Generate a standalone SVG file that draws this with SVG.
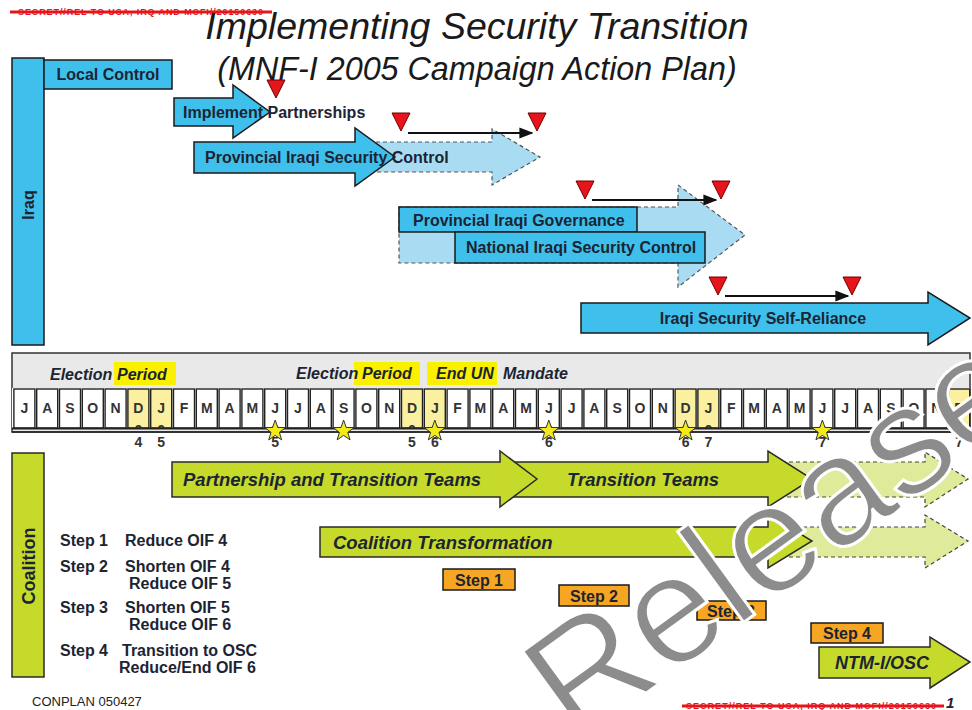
<svg xmlns="http://www.w3.org/2000/svg" xmlns:xlink="http://www.w3.org/1999/xlink" width="972" height="710" viewBox="0 0 972 710">
<style>
.t{font-family:"Liberation Sans",Arial,sans-serif;font-weight:bold;fill:#1c2433}
.bl{fill:#3fc0ec;stroke:#1a1a1a;stroke-width:1.5}
.bld{fill:#a9dcf3;stroke:#555;stroke-width:1.2;stroke-dasharray:4 3}
.gr{fill:#c6da2c;stroke:#2a2a2a;stroke-width:1.5}
.grd{fill:#dfeb9a;stroke:#444;stroke-width:1.2;stroke-dasharray:4 3}
.st{fill:#f6a623;stroke:#1a1a1a;stroke-width:1.5}
.tri{fill:#e8141b;stroke:#6b0000;stroke-width:1}
.cell{fill:#fff;stroke:#222;stroke-width:1.4}
.hcell{fill:#faf0a0;stroke:#222;stroke-width:1.4}
.m{font-family:"Liberation Sans",Arial,sans-serif;font-weight:bold;font-size:14px;fill:#333;text-anchor:middle}
.hl{fill:#fbf000}
.hd{font-family:"Liberation Sans",Arial,sans-serif;font-weight:bold;font-style:italic;font-size:16px;fill:#1c2433}
.red{font-family:"Liberation Sans",Arial,sans-serif;font-weight:bold;font-size:9px;fill:#e8141b}
</style>
<defs>
<marker id="ah" viewBox="0 0 10 10" refX="9" refY="5" markerWidth="7" markerHeight="7" orient="auto"><path d="M0,1 L10,5 L0,9 z" fill="#111"/></marker>
<polygon id="star" points="0,-11 2.59,-3.56 10.46,-3.4 4.18,1.36 6.47,8.9 0,4.4 -6.47,8.9 -4.18,1.36 -10.46,-3.4 -2.59,-3.56" fill="#f3ea1c" stroke="#333" stroke-width="1"/>
<polygon id="rt" points="-9,0 9,0 0,18" class="tri"/>
<clipPath id="cc"><rect x="12" y="388" width="958" height="40"/></clipPath>
</defs>
<rect width="972" height="710" fill="#fff"/>

<g id="marking-top">
<text class="red" x="18" y="15" textLength="245">SECRET//REL TO USA, IRQ AND MCFI//20150630</text>
<line x1="10" y1="12" x2="272" y2="12" stroke="#e8141b" stroke-width="3"/>
</g>

<g id="title">
<text x="477" y="39" text-anchor="middle" font-family="Liberation Sans, Arial, sans-serif" font-style="italic" font-size="37.5" fill="#1a1a1a">Implementing Security Transition</text>
<text x="477" y="80" text-anchor="middle" font-family="Liberation Sans, Arial, sans-serif" font-style="italic" font-size="32.3" fill="#1a1a1a">(MNF-I 2005 Campaign Action Plan)</text>
</g>

<g id="iraq-bar">
<rect class="bl" x="12" y="58" width="32" height="287"/>
<text class="t" font-size="16" transform="translate(34,205) rotate(-90)" text-anchor="middle">Iraq</text>
</g>

<g id="local-control">
<rect class="bl" x="44" y="60" width="128" height="29"/>
<text class="t" font-size="16" x="108" y="80" text-anchor="middle">Local Control</text>
</g>

<g id="implement-partnerships">
<polygon class="bl" points="174,98 233,98 233,85 270,112 233,138 233,126 174,126"/>
<text class="t" font-size="16" x="183" y="118">Implement Partnerships</text>
</g>

<g id="provincial-security-control">
<polygon class="bld" points="355,142 492,142 492,129 540,157 492,185 492,172 355,172"/>
<polygon class="bl" points="194,142 355,142 355,128 395,157 355,186 355,173 194,173"/>
<text class="t" font-size="16" x="205" y="163">Provincial Iraqi Security Control</text>
</g>

<g id="governance-national">
<polygon class="bld" points="399,207 678,207 678,185 745,235 678,287 678,263 399,263"/>
<rect class="bl" x="399" y="207" width="238" height="25"/>
<text class="t" font-size="16" x="413" y="226">Provincial Iraqi Governance</text>
<rect class="bl" x="455" y="232" width="250" height="31"/>
<text class="t" font-size="16" x="466" y="253">National Iraqi Security Control</text>
</g>

<g id="self-reliance">
<polygon class="bl" points="581,303 928,303 928,292 970,318 928,345 928,333 581,333"/>
<text class="t" font-size="16" x="763" y="324" text-anchor="middle">Iraqi Security Self-Reliance</text>
</g>

<g id="milestones">
<use href="#rt" x="276" y="80"/>
<use href="#rt" x="401" y="113"/>
<use href="#rt" x="537" y="113"/>
<use href="#rt" x="585" y="181"/>
<use href="#rt" x="721" y="181"/>
<use href="#rt" x="718" y="277"/>
<use href="#rt" x="852" y="277"/>
</g>

<g id="connectors" stroke="#111" stroke-width="2" fill="none">
<line x1="408" y1="133" x2="532" y2="133" marker-end="url(#ah)"/>
<line x1="592" y1="200" x2="716" y2="200" marker-end="url(#ah)"/>
<line x1="725" y1="296" x2="848" y2="296" marker-end="url(#ah)"/>
</g>

<g id="timeline">
<rect x="12" y="353" width="958" height="79" fill="#e9e9e9" stroke="#333" stroke-width="1.5"/>
<rect class="hl" x="114" y="362" width="62" height="23"/>
<rect class="hl" x="354" y="362" width="66" height="23"/>
<rect class="hl" x="427" y="362" width="70" height="23"/>
<text class="hd" x="50" y="380">Election</text>
<text class="hd" x="117" y="380">Period</text>
<text class="hd" x="296" y="379">Election</text>
<text class="hd" x="362" y="379">Period</text>
<text class="hd" x="436" y="379">End UN</text>
<text class="hd" x="503" y="379">Mandate</text>
<rect x="12" y="388" width="958" height="41" fill="#fff"/>
<g id="cells">
<rect class="cell" x="13.9" y="389" width="21" height="39"/>
<rect class="cell" x="36.7" y="389" width="21" height="39"/>
<rect class="cell" x="59.5" y="389" width="21" height="39"/>
<rect class="cell" x="82.3" y="389" width="21" height="39"/>
<rect class="cell" x="105.1" y="389" width="21" height="39"/>
<rect class="hcell" x="127.9" y="389" width="21" height="39"/>
<rect class="hcell" x="150.7" y="389" width="21" height="39"/>
<rect class="cell" x="173.5" y="389" width="21" height="39"/>
<rect class="cell" x="196.3" y="389" width="21" height="39"/>
<rect class="cell" x="219.1" y="389" width="21" height="39"/>
<rect class="cell" x="241.9" y="389" width="21" height="39"/>
<rect class="cell" x="264.7" y="389" width="21" height="39"/>
<rect class="cell" x="287.5" y="389" width="21" height="39"/>
<rect class="cell" x="310.3" y="389" width="21" height="39"/>
<rect class="cell" x="333.1" y="389" width="21" height="39"/>
<rect class="cell" x="355.9" y="389" width="21" height="39"/>
<rect class="cell" x="378.7" y="389" width="21" height="39"/>
<rect class="hcell" x="401.5" y="389" width="21" height="39"/>
<rect class="hcell" x="424.3" y="389" width="21" height="39"/>
<rect class="cell" x="447.1" y="389" width="21" height="39"/>
<rect class="cell" x="469.9" y="389" width="21" height="39"/>
<rect class="cell" x="492.7" y="389" width="21" height="39"/>
<rect class="cell" x="515.5" y="389" width="21" height="39"/>
<rect class="cell" x="538.3" y="389" width="21" height="39"/>
<rect class="cell" x="561.1" y="389" width="21" height="39"/>
<rect class="cell" x="583.9" y="389" width="21" height="39"/>
<rect class="cell" x="606.7" y="389" width="21" height="39"/>
<rect class="cell" x="629.5" y="389" width="21" height="39"/>
<rect class="cell" x="652.3" y="389" width="21" height="39"/>
<rect class="hcell" x="675.1" y="389" width="21" height="39"/>
<rect class="hcell" x="697.9" y="389" width="21" height="39"/>
<rect class="cell" x="720.7" y="389" width="21" height="39"/>
<rect class="cell" x="743.5" y="389" width="21" height="39"/>
<rect class="cell" x="766.3" y="389" width="21" height="39"/>
<rect class="cell" x="789.1" y="389" width="21" height="39"/>
<rect class="cell" x="811.9" y="389" width="21" height="39"/>
<rect class="cell" x="834.7" y="389" width="21" height="39"/>
<rect class="cell" x="857.5" y="389" width="21" height="39"/>
<rect class="cell" x="880.3" y="389" width="21" height="39"/>
<rect class="cell" x="903.1" y="389" width="21" height="39"/>
<rect class="cell" x="925.9" y="389" width="21" height="39"/>
<rect class="hcell" x="948.7" y="389" width="21" height="39"/>
</g>
<g id="months">
<text class="m" x="24.4" y="413">J</text><text class="m" x="47.2" y="413">A</text><text class="m" x="70" y="413">S</text><text class="m" x="92.8" y="413">O</text><text class="m" x="115.6" y="413">N</text><text class="m" x="138.4" y="413">D</text>
<text class="m" x="161.2" y="413">J</text><text class="m" x="184" y="413">F</text><text class="m" x="206.8" y="413">M</text><text class="m" x="229.6" y="413">A</text><text class="m" x="252.4" y="413">M</text><text class="m" x="275.2" y="413">J</text><text class="m" x="298" y="413">J</text><text class="m" x="320.8" y="413">A</text><text class="m" x="343.6" y="413">S</text><text class="m" x="366.4" y="413">O</text><text class="m" x="389.2" y="413">N</text><text class="m" x="412" y="413">D</text>
<text class="m" x="434.8" y="413">J</text><text class="m" x="457.6" y="413">F</text><text class="m" x="480.4" y="413">M</text><text class="m" x="503.2" y="413">A</text><text class="m" x="526" y="413">M</text><text class="m" x="548.8" y="413">J</text><text class="m" x="571.6" y="413">J</text><text class="m" x="594.4" y="413">A</text><text class="m" x="617.2" y="413">S</text><text class="m" x="640" y="413">O</text><text class="m" x="662.8" y="413">N</text><text class="m" x="685.6" y="413">D</text>
<text class="m" x="708.4" y="413">J</text><text class="m" x="731.2" y="413">F</text><text class="m" x="754" y="413">M</text><text class="m" x="776.8" y="413">A</text><text class="m" x="799.6" y="413">M</text><text class="m" x="822.4" y="413">J</text><text class="m" x="845.2" y="413">J</text><text class="m" x="868" y="413">A</text><text class="m" x="890.8" y="413">S</text><text class="m" x="913.6" y="413">O</text><text class="m" x="936.4" y="413">N</text><text class="m" x="959.2" y="413">D</text>
</g>
<g id="zeros" clip-path="url(#cc)">
<text class="m" x="138.4" y="435">0</text><text class="m" x="161.2" y="435">0</text><text class="m" x="275.2" y="435">0</text><text class="m" x="412" y="435">0</text><text class="m" x="434.8" y="435">0</text><text class="m" x="548.8" y="435">0</text><text class="m" x="685.6" y="435">0</text><text class="m" x="708.4" y="435">0</text><text class="m" x="822.4" y="435">0</text><text class="m" x="959.2" y="435">0</text>
</g>
<line x1="12" y1="428.5" x2="970" y2="428.5" stroke="#222" stroke-width="2"/>
<line x1="12" y1="432" x2="970" y2="432" stroke="#222" stroke-width="1.5"/>
<g id="years">
<text class="m" x="138.4" y="447">4</text><text class="m" x="161.2" y="447">5</text><text class="m" x="275.2" y="447">5</text><text class="m" x="412" y="447">5</text><text class="m" x="434.8" y="447">6</text><text class="m" x="548.8" y="447">6</text><text class="m" x="685.6" y="447">6</text><text class="m" x="708.4" y="447">7</text><text class="m" x="822.4" y="447">7</text><text class="m" x="959.2" y="447">7</text>
</g>
<g id="stars">
<use href="#star" x="275.2" y="431"/>
<use href="#star" x="343.6" y="431"/>
<use href="#star" x="434.8" y="431"/>
<use href="#star" x="548.8" y="431"/>
<use href="#star" x="685.6" y="431"/>
<use href="#star" x="822.4" y="431"/>
</g>
</g>

<g id="coalition-bar">
<rect class="gr" x="12" y="453" width="32" height="224"/>
<text class="t" font-size="18" transform="translate(35,566) rotate(-90)" text-anchor="middle">Coalition</text>
</g>

<g id="transition-teams">
<polygon class="grd" points="768,462 925,462 925,452 968,479 925,507 925,497 768,497"/>
<polygon class="gr" points="505,462 768,462 768,451 812,479 768,507 768,497 505,497"/>
<text class="t" font-size="18.5" font-style="italic" x="567" y="486">Transition Teams</text>
</g>

<g id="partnership-transition-teams">
<polygon class="gr" points="172,462 500,462 500,451 537,479 500,507 500,497 172,497"/>
<text class="t" font-size="18.5" font-style="italic" x="183" y="486">Partnership and Transition Teams</text>
</g>

<g id="coalition-transformation">
<polygon class="grd" points="768,527 925,527 925,515 968,541 925,568 925,557 768,557"/>
<polygon class="gr" points="320,527 768,527 768,514 812,541 768,568 768,557 320,557"/>
<text class="t" font-size="18.5" font-style="italic" x="333" y="549">Coalition Transformation</text>
</g>

<g id="steps-legend" class="t" font-size="16">
<text x="60" y="546">Step 1</text><text x="125" y="546">Reduce OIF 4</text>
<text x="60" y="572">Step 2</text><text x="125" y="572">Shorten OIF 4</text>
<text x="129" y="589">Reduce OIF 5</text>
<text x="60" y="613">Step 3</text><text x="125" y="613">Shorten OIF 5</text>
<text x="129" y="630">Reduce OIF 6</text>
<text x="60" y="656">Step 4</text><text x="122" y="656">Transition to OSC</text>
<text x="119" y="673">Reduce/End OIF 6</text>
</g>

<g id="step1"><rect class="st" x="443" y="569" width="72" height="21"/><text class="t" font-size="16" x="479" y="586" text-anchor="middle">Step 1</text></g>
<g id="step2"><rect class="st" x="559" y="585" width="70" height="21"/><text class="t" font-size="16" x="594" y="602" text-anchor="middle">Step 2</text></g>
<g id="step3"><rect class="st" x="697" y="601" width="69" height="19"/><text class="t" font-size="16" x="731" y="617" text-anchor="middle">Step 3</text></g>
<g id="step4"><rect class="st" x="811" y="623" width="72" height="20"/><text class="t" font-size="16" x="847" y="639" text-anchor="middle">Step 4</text></g>

<g id="ntm-osc">
<polygon class="gr" points="819,647 930,647 930,637 970,662 930,688 930,678 819,678"/>
<text class="t" font-size="18" font-style="italic" x="882" y="669" text-anchor="middle">NTM-I/OSC</text>
</g>

<g id="footer">
<text x="32" y="706" font-family="Liberation Sans, Arial, sans-serif" font-size="13" fill="#222">CONPLAN 050427</text>
<text class="red" x="686" y="709" textLength="250">SECRET//REL TO USA, IRQ AND MCFI//20150630</text>
<line x1="682" y1="706" x2="944" y2="706" stroke="#e8141b" stroke-width="3"/>
<text class="t" font-size="15" font-style="italic" x="946" y="708">1</text>
</g>

<g id="watermark">
<text x="0" y="0" transform="translate(575,745) rotate(-36)" font-family="Liberation Sans, Arial, sans-serif" font-size="155" fill="#8c8c8c" stroke="#fff" stroke-width="3">Release</text>
</g>
</svg>
